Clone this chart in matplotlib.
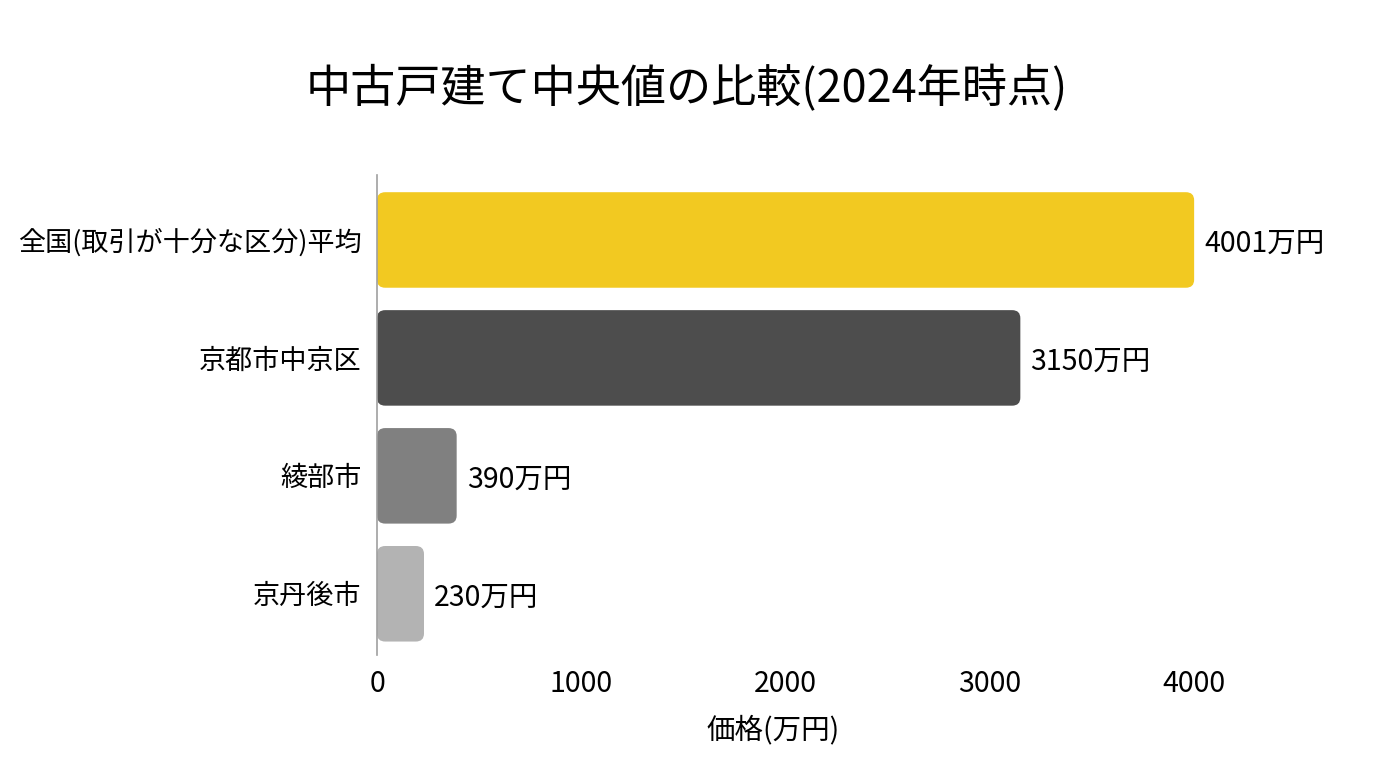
import matplotlib.pyplot as plt
from matplotlib.patches import FancyBboxPatch

plt.rcParams['font.family'] = ['Noto Sans CJK JP', 'DejaVu Sans']

# data
regions = ['全国(取引が十分な区分)平均', '京都市中京区', '綾部市', '京丹後市']
prices = [4001, 3150, 390, 230]
value_labels = ['4001万円', '3150万円', '390万円', '230万円']
bar_colors = ['#F2C921', '#4D4D4D', '#808080', '#B3B3B3']

fig = plt.figure(figsize=(13.76, 7.68), dpi=100)
ax = fig.add_axes([0.274, 0.147, 0.705, 0.625])

bars = ax.barh(range(len(regions)), prices, height=0.81, color=bar_colors)

# swap the plain bars for rounded ones
for b in bars:
    x, y = b.get_x(), b.get_y()
    w, h = b.get_width(), b.get_height()
    box = FancyBboxPatch((x, y), w, h,
                         boxstyle='round,pad=0,rounding_size=40',
                         mutation_aspect=0.0017,
                         facecolor=b.get_facecolor(), edgecolor='none')
    b.set_visible(False)
    ax.add_patch(box)

for i, (p, lab) in enumerate(zip(prices, value_labels)):
    ax.text(p + 50, i + 0.03, lab, va='center', ha='left', fontsize=20.5)

ax.set_xlim(0, 4750)
ax.set_ylim(3.52, -0.55)
ax.set_yticks(range(len(regions)))
ax.set_yticklabels(regions, fontsize=19.5)
ax.set_xticks([0, 1000, 2000, 3000, 4000])
ax.tick_params(axis='x', labelsize=20.5, length=0, pad=10)
ax.tick_params(axis='y', length=0, pad=11)
ax.set_xlabel('価格(万円)', fontsize=20.5)
ax.xaxis.set_label_coords(0.408, -0.125)

for s in ['top', 'right', 'bottom']:
    ax.spines[s].set_visible(False)
ax.spines['left'].set_color('#A0A0A0')
ax.spines['left'].set_linewidth(1.2)

fig.suptitle('中古戸建て中央値の比較(2024年時点)', fontsize=32.5, y=0.915, x=0.499)

fig.savefig('out.png', dpi=100, facecolor='white')
